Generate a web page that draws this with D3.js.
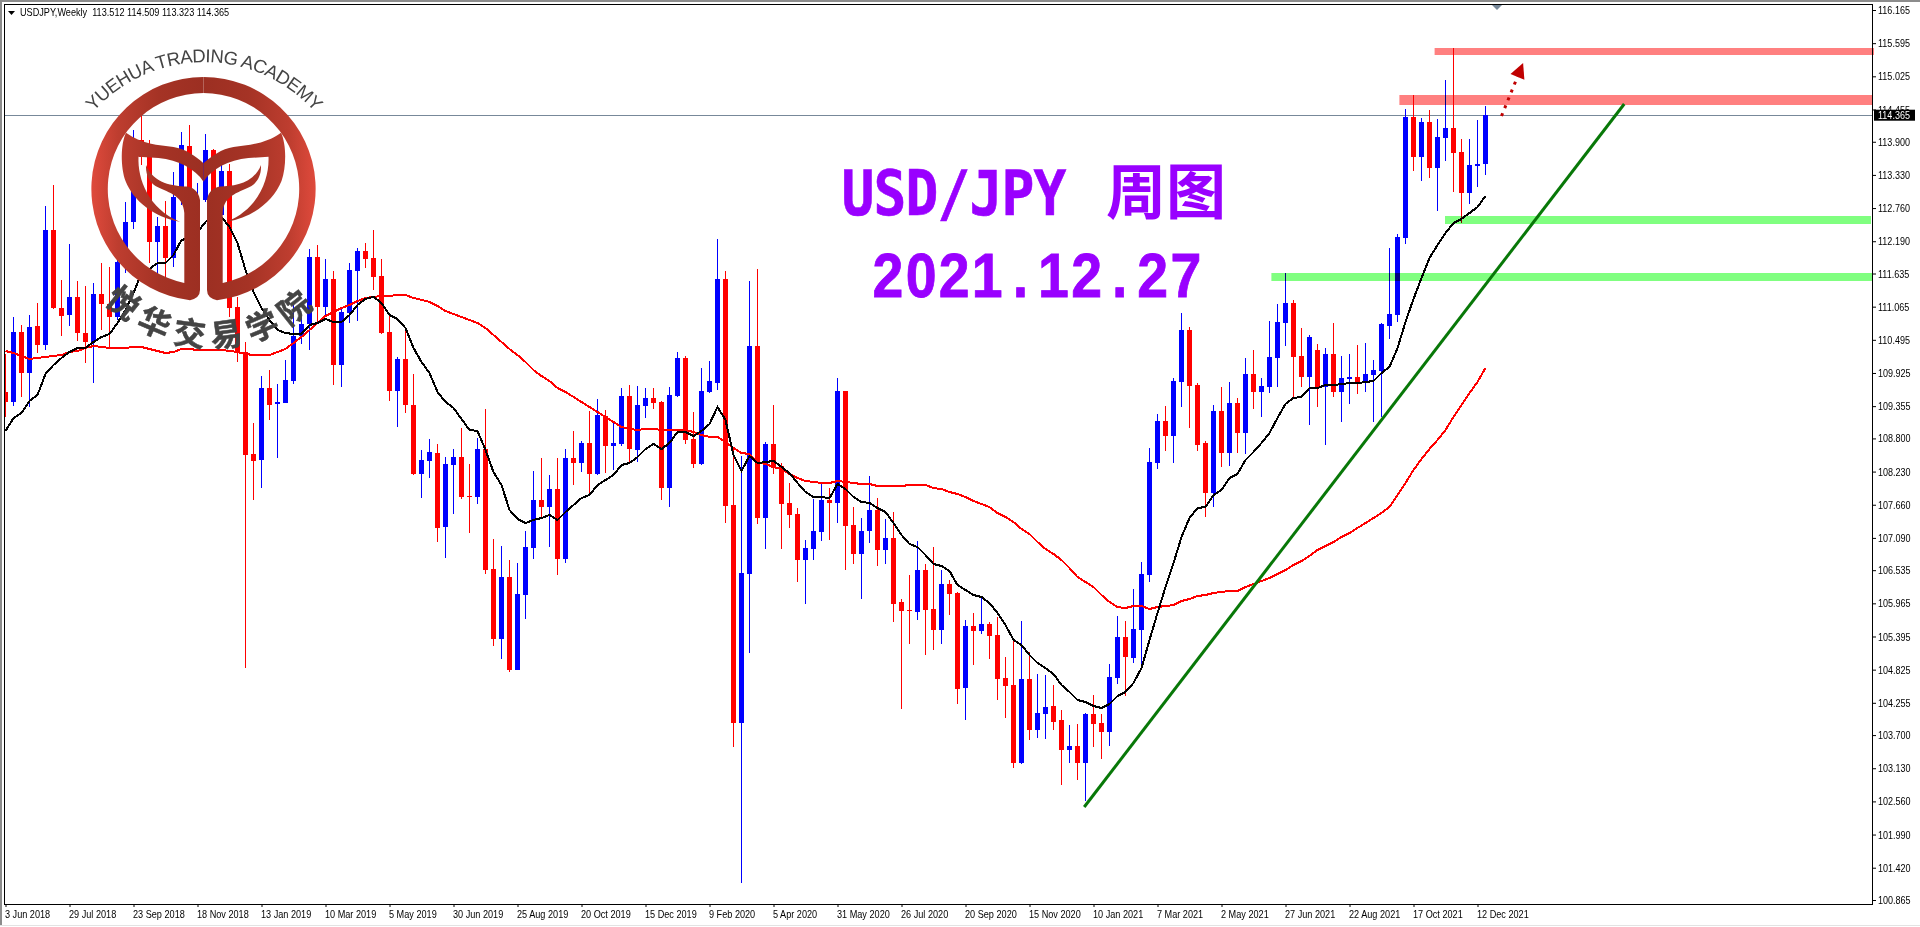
<!DOCTYPE html>
<html>
<head>
<meta charset="utf-8">
<title>USDJPY Weekly</title>
<script src="https://cdn.jsdelivr.net/npm/d3@7/dist/d3.min.js"></script>
<style>
  html, body { margin: 0; padding: 0; background: #fff; overflow: hidden; }
  svg { display: block; }
  text { font-family: "Liberation Sans", sans-serif; }
</style>
</head>
<body>
<script>
// weekly bars
var opens = [109.599,109.427,110.630,109.924,110.733,110.406,112.383,111.042,110.922,111.232,
  110.612,110.458,111.283,111.111,110.888,111.833,112.521,113.930,113.638,112.177,
  112.452,111.902,112.951,113.827,112.469,112.899,113.758,112.641,113.397,111.059,
  110.286,108.532,108.429,109.667,109.392,109.409,109.787,110.561,110.767,111.919,
  111.059,111.541,110.062,110.956,111.678,112.022,111.902,111.592,110.630,109.615,
  110.165,109.375,108.188,108.412,108.549,107.278,108.343,108.480,107.810,107.793,
  108.618,106.555,105.352,106.418,104.819,106.108,106.917,107.741,107.621,107.930,
  106.727,108.463,108.377,108.721,108.188,109.186,108.670,108.704,109.530,108.601,
  109.358,109.496,109.427,107.947,109.530,110.183,108.790,108.360,109.598,109.752,
  111.541,107.655,103.907,106.469,110.389,107.432,108.704,108.326,107.690,107.501,
  106.710,106.899,107.191,107.741,107.690,109.615,107.312,106.813,107.209,107.570,
  106.882,107.088,105.988,105.850,105.816,106.538,105.867,105.507,106.298,106.143,
  104.509,105.576,105.490,105.610,105.421,104.681,104.561,103.220,104.664,103.788,
  104.062,104.199,103.959,103.444,103.513,103.220,104.062,103.907,103.753,104.681,
  105.387,105.025,105.507,106.452,108.377,109.100,108.842,109.770,110.664,109.718,
  108.721,107.862,109.272,108.549,109.409,108.893,109.907,109.598,109.684,110.183,
  110.784,111.128,110.217,109.856,110.320,109.684,110.251,109.598,109.822,109.856,
  109.752,109.890,109.959,110.733,110.922,112.246,114.326,113.638,114.240,113.449,
  113.965,114.137,113.724,113.019,113.483,113.512];
var highs = [110.251,110.888,110.750,110.922,111.128,112.796,113.157,111.524,112.142,111.507,
  111.421,111.472,111.815,111.747,112.039,112.865,114.102,114.360,113.930,112.607,
  112.882,113.380,114.068,114.188,113.191,114.033,113.775,113.552,113.518,111.232,
  110.458,109.065,109.873,109.976,109.735,110.148,111.094,110.939,112.056,112.125,
  111.884,111.678,111.025,111.815,112.074,112.159,112.383,111.884,110.922,110.200,
  110.664,109.907,108.601,108.790,108.704,108.480,108.618,108.980,108.360,108.807,
  109.306,107.071,106.951,106.710,106.658,107.209,108.240,108.463,108.171,108.463,
  108.618,108.928,108.756,109.272,109.478,109.289,109.082,109.667,109.718,109.701,
  109.667,109.667,109.444,109.684,110.286,110.217,109.254,110.011,110.131,112.228,
  111.678,108.653,108.498,111.507,111.713,108.738,109.375,108.377,108.034,107.604,
  107.054,107.758,108.034,107.947,109.839,109.615,107.621,107.432,108.154,107.775,
  107.415,107.535,106.039,106.452,107.037,106.641,106.934,106.538,106.366,106.160,
  105.679,105.799,106.074,105.644,105.730,105.042,105.335,105.662,105.129,104.750,
  104.733,104.561,104.131,103.873,103.890,104.079,104.389,104.062,104.922,105.748,
  105.662,106.211,106.676,108.635,109.220,109.358,109.839,110.956,110.716,109.752,
  108.756,109.375,109.684,109.770,109.496,110.183,110.320,109.839,110.819,111.111,
  111.643,111.180,110.698,110.578,110.423,110.355,110.784,110.217,110.251,110.406,
  110.440,110.148,110.784,112.074,112.314,114.463,114.704,114.309,114.446,114.291,
  114.962,115.512,113.947,113.947,114.274,114.509];
var lows = [109.169,109.358,109.513,109.341,110.268,110.320,111.025,110.561,110.733,110.475,
  110.096,109.752,110.664,110.372,110.836,111.643,112.400,113.500,111.815,111.609,
  111.490,111.747,112.813,112.899,112.297,112.865,112.469,112.503,110.888,110.114,
  104.853,107.741,107.947,109.117,108.463,109.409,109.735,110.423,110.320,110.802,
  110.888,109.718,109.684,110.784,110.819,111.730,111.352,110.595,109.444,108.997,
  109.237,108.171,107.775,108.120,107.020,106.744,107.501,107.758,107.174,107.672,
  106.469,105.232,105.008,104.785,104.819,105.696,106.727,107.449,106.934,106.452,
  106.658,107.999,108.222,107.862,108.171,108.205,108.257,108.670,108.377,108.394,
  109.151,109.306,107.741,107.621,109.513,108.704,108.291,108.343,109.581,109.633,
  107.346,103.496,101.157,105.111,107.329,106.899,108.188,106.899,107.261,106.332,
  105.953,106.710,107.037,107.054,107.346,106.538,106.641,106.039,107.002,106.607,
  106.641,105.644,104.148,105.266,105.679,105.077,105.163,105.266,105.765,104.234,
  103.959,104.905,105.438,105.008,104.303,103.993,103.134,103.203,103.616,103.650,
  103.633,103.788,102.842,103.220,102.928,102.567,103.496,103.289,103.513,104.578,
  104.372,104.939,104.870,106.332,108.274,108.584,108.377,109.341,108.980,108.584,
  107.449,107.621,108.309,108.326,108.549,108.532,109.306,109.169,109.581,109.684,
  110.389,109.513,109.684,109.031,109.341,108.687,109.513,109.082,109.392,109.564,
  109.598,109.082,109.169,110.509,110.802,112.142,113.397,113.225,113.277,112.710,
  113.569,113.036,112.503,112.830,113.122,113.323];
var closes = [109.427,110.630,109.924,110.716,110.406,112.383,111.042,110.905,111.232,110.612,
  110.458,111.283,111.111,110.888,111.833,112.521,113.930,113.638,112.177,112.452,
  111.902,112.951,113.844,112.985,112.899,113.758,112.899,113.397,111.042,110.286,
  108.515,108.412,109.667,109.375,109.427,109.804,110.561,110.767,111.919,111.059,
  111.541,110.062,110.974,111.695,112.022,111.884,111.575,110.612,109.615,110.165,
  109.375,108.188,108.429,108.567,107.261,108.360,108.480,107.793,107.793,108.618,
  106.538,105.352,106.418,104.819,106.125,106.934,107.741,107.621,107.930,106.727,
  108.463,108.377,108.721,108.188,109.203,108.670,108.721,109.530,108.618,109.375,
  109.496,109.409,107.947,109.547,110.183,108.773,108.360,109.615,109.787,111.541,
  107.638,103.907,106.486,110.389,107.432,108.704,108.291,107.672,107.484,106.710,
  106.917,107.209,107.741,107.690,109.615,107.295,106.813,107.209,107.570,106.882,
  107.088,105.953,105.833,105.833,106.538,105.850,105.507,106.298,106.125,104.492,
  105.576,105.490,105.610,105.404,104.664,104.544,103.220,104.664,103.788,104.079,
  104.182,103.924,103.444,103.513,103.220,104.062,103.890,103.753,104.698,105.387,
  105.042,105.524,106.469,108.394,109.100,108.842,109.787,110.664,109.701,108.687,
  107.862,109.272,108.549,109.409,108.893,109.907,109.598,109.701,110.200,110.802,
  111.128,110.200,109.856,110.544,109.684,110.251,109.598,109.839,109.856,109.752,
  109.907,109.976,110.767,110.939,112.263,114.326,113.638,114.240,113.449,113.982,
  114.137,113.707,113.019,113.500,113.518,114.365];

// moving averages
var fastMA = [108.928,109.151,109.237,109.444,109.547,109.907,110.062,110.183,110.286,110.355,
  110.355,110.458,110.544,110.595,110.784,111.008,111.300,111.643,111.713,111.815,
  111.815,111.953,112.211,112.246,112.349,112.521,112.641,112.607,112.435,112.159,
  111.695,111.317,111.042,110.836,110.664,110.612,110.595,110.595,110.750,110.784,
  110.853,110.802,110.802,110.922,111.094,111.197,111.232,111.128,110.922,110.853,
  110.698,110.355,110.114,109.924,109.598,109.427,109.323,109.134,108.945,108.928,
  108.601,108.222,107.999,107.570,107.415,107.346,107.398,107.432,107.484,107.398,
  107.535,107.655,107.775,107.827,107.999,108.085,108.171,108.343,108.377,108.480,
  108.618,108.704,108.618,108.721,108.910,108.910,108.842,108.928,109.048,109.341,
  109.117,108.515,108.240,108.498,108.377,108.394,108.412,108.309,108.205,108.034,
  107.879,107.793,107.793,107.775,108.016,107.930,107.793,107.707,107.690,107.604,
  107.535,107.346,107.140,106.985,106.934,106.796,106.641,106.607,106.521,106.280,
  106.194,106.108,106.074,105.970,105.799,105.593,105.335,105.249,105.077,104.939,
  104.853,104.750,104.561,104.441,104.303,104.269,104.200,104.165,104.234,104.372,
  104.441,104.596,104.853,105.335,105.799,106.246,106.658,107.106,107.432,107.604,
  107.621,107.827,107.913,108.120,108.188,108.429,108.567,108.721,108.893,109.151,
  109.392,109.496,109.513,109.667,109.667,109.718,109.718,109.735,109.752,109.752,
  109.770,109.787,109.924,110.028,110.355,110.802,111.197,111.558,111.902,112.125,
  112.331,112.503,112.572,112.675,112.778,112.968];
var slowMA = [110.303,110.268,110.217,110.165,110.183,110.200,110.217,110.234,110.286,110.303,
  110.355,110.389,110.372,110.355,110.355,110.355,110.372,110.372,110.337,110.303,
  110.268,110.286,110.337,110.337,110.320,110.320,110.320,110.320,110.303,110.286,
  110.251,110.234,110.234,110.234,110.286,110.337,110.440,110.544,110.664,110.784,
  110.905,110.974,111.042,111.094,111.163,111.215,111.232,111.249,111.249,111.266,
  111.266,111.215,111.180,111.146,111.077,110.991,110.939,110.888,110.836,110.784,
  110.698,110.578,110.458,110.337,110.234,110.114,109.976,109.873,109.787,109.667,
  109.598,109.513,109.427,109.341,109.254,109.169,109.082,108.997,108.962,108.945,
  108.962,108.962,108.945,108.945,108.945,108.945,108.910,108.859,108.825,108.825,
  108.738,108.635,108.549,108.532,108.394,108.360,108.309,108.274,108.188,108.120,
  108.068,108.051,108.034,108.034,108.068,108.051,108.034,108.016,108.016,107.982,
  107.982,107.982,107.982,107.999,107.999,107.999,107.947,107.930,107.879,107.844,
  107.793,107.724,107.672,107.621,107.518,107.449,107.363,107.243,107.157,107.020,
  106.899,106.813,106.710,106.572,106.418,106.332,106.246,106.108,105.988,105.902,
  105.884,105.919,105.919,105.867,105.902,105.919,105.936,106.005,106.039,106.091,
  106.108,106.143,106.160,106.177,106.177,106.246,106.298,106.349,106.401,106.469,
  106.538,106.624,106.693,106.779,106.882,106.951,107.020,107.106,107.174,107.261,
  107.346,107.432,107.518,107.621,107.827,108.034,108.257,108.446,108.618,108.773,
  108.945,109.169,109.375,109.581,109.770,110.011];

// axis labels
var priceTicks = [116.165,115.595,115.025,114.455,113.900,113.330,112.760,112.190,111.635,111.065,
  110.495,109.925,109.355,108.800,108.230,107.660,107.090,106.535,105.965,105.395,
  104.825,104.255,103.700,103.130,102.560,101.990,101.420,100.865];
var dateLabels = ["3 Jun 2018","29 Jul 2018","23 Sep 2018","18 Nov 2018","13 Jan 2019","10 Mar 2019",
  "5 May 2019","30 Jun 2019","25 Aug 2019","20 Oct 2019","15 Dec 2019","9 Feb 2020","5 Apr 2020",
  "31 May 2020","26 Jul 2020","20 Sep 2020","15 Nov 2020","10 Jan 2021","7 Mar 2021","2 May 2021",
  "27 Jun 2021","22 Aug 2021","17 Oct 2021","12 Dec 2021"];

// zones and drawn objects, in bar index and price
var zoneStart = [178.7, 174.3, 180, 158.3];
var zoneTop = [115.512, 114.704, 112.624, 111.643];
var zoneBottom = [115.392, 114.532, 112.486, 111.507];
var zoneColor = ["#ff8080", "#ff8080", "#80ff80", "#80ff80"];
var trendBars = [134.84, 202.34];
var trendPrices = [102.464, 114.549];
var arrowBars = [187, 189.7];
var arrowPrices = [114.343, 115.254];

var lastPrice = closes[closes.length - 1];
var upColor = "#0000ff";
var downColor = "#ff0000";

var svg = d3.select("body").append("svg")
  .attr("width", 1920)
  .attr("height", 927);

var plot = { left: 4, top: 4, right: 1872, bottom: 904 };

var x = d3.scaleLinear().domain([0, 185]).range([5.5, 1485.5]);
var y = d3.scaleLinear().domain([100.865, 116.165]).range([900, 10]);

// window edges
svg.append("rect").attr("width", 1920).attr("height", 2).attr("fill", "#8c8c8c");
svg.append("rect").attr("width", 2).attr("height", 925).attr("fill", "#8c8c8c");
svg.append("rect").attr("y", 925).attr("width", 1920).attr("height", 1).attr("fill", "#e3e3e3");

svg.append("clipPath").attr("id", "plotClip").append("rect")
  .attr("x", plot.left)
  .attr("y", plot.top)
  .attr("width", plot.right - plot.left)
  .attr("height", plot.bottom - plot.top);

var chart = svg.append("g").attr("clip-path", "url(#plotClip)");

// last price line goes behind the bars
chart.append("line")
  .attr("x1", plot.left).attr("x2", plot.right)
  .attr("y1", Math.round(y(lastPrice)) + 0.5).attr("y2", Math.round(y(lastPrice)) + 0.5)
  .attr("stroke", "#778899");

var bars = d3.range(opens.length);

function barColor(i) {
  return closes[i] >= opens[i] ? upColor : downColor;
}

// wicks
chart.selectAll(".wick")
  .data(bars)
  .enter()
  .append("rect")
  .attr("class", "wick")
  .attr("x", function(i) { return x(i) - 0.5; })
  .attr("y", function(i) { return Math.round(y(highs[i])); })
  .attr("width", 1)
  .attr("height", function(i) { return Math.max(1, Math.round(y(lows[i])) - Math.round(y(highs[i]))); })
  .attr("fill", barColor);

// bodies
chart.selectAll(".body")
  .data(bars)
  .enter()
  .append("rect")
  .attr("class", "body")
  .attr("x", function(i) { return x(i) - 2.5; })
  .attr("y", function(i) { return Math.round(y(Math.max(opens[i], closes[i]))); })
  .attr("width", 5)
  .attr("height", function(i) {
    return Math.max(1, Math.round(y(Math.min(opens[i], closes[i]))) - Math.round(y(Math.max(opens[i], closes[i]))));
  })
  .attr("fill", barColor);

// moving averages, not smoothed like the terminal draws them
var maLine = d3.line()
  .x(function(d, i) { return x(i); })
  .y(function(d) { return y(d); });

chart.append("path").datum(slowMA)
  .attr("d", maLine)
  .attr("fill", "none")
  .attr("stroke", "#ff0000")
  .attr("stroke-width", 2)
  .attr("shape-rendering", "crispEdges");

chart.append("path").datum(fastMA)
  .attr("d", maLine)
  .attr("fill", "none")
  .attr("stroke", "#000000")
  .attr("stroke-width", 2)
  .attr("shape-rendering", "crispEdges");

// support and resistance zones, multiply so the bars show through like in the terminal
svg.selectAll(".zone")
  .data(zoneStart)
  .enter()
  .append("rect")
  .attr("class", "zone")
  .attr("x", function(d) { return x(d) - 0.5; })
  .attr("y", function(d, i) { return Math.round(y(zoneTop[i])); })
  .attr("width", function(d, i) { return (i == 0 ? 1874 : i == 2 ? 1871 : 1872) - x(d) + 0.5; })
  .attr("height", function(d, i) { return Math.round(y(zoneBottom[i])) - Math.round(y(zoneTop[i])); })
  .attr("fill", function(d, i) { return zoneColor[i]; })
  .style("mix-blend-mode", "multiply");

// trend line
svg.append("line")
  .attr("x1", x(trendBars[0])).attr("y1", y(trendPrices[0]))
  .attr("x2", x(trendBars[1])).attr("y2", y(trendPrices[1]))
  .attr("stroke", "#087808")
  .attr("stroke-width", 3);

// dotted arrow
var ax0 = x(arrowBars[0]), ay0 = y(arrowPrices[0]);
var ax1 = x(arrowBars[1]), ay1 = y(arrowPrices[1]);
var alen = Math.sqrt((ax1 - ax0) * (ax1 - ax0) + (ay1 - ay0) * (ay1 - ay0));
var ux = (ax1 - ax0) / alen, uy = (ay1 - ay0) / alen;
svg.append("line")
  .attr("x1", ax0).attr("y1", ay0)
  .attr("x2", ax1 - ux * 12).attr("y2", ay1 - uy * 12)
  .attr("stroke", "#c00000")
  .attr("stroke-width", 3)
  .attr("stroke-dasharray", "3 5.5");
svg.append("polygon")
  .attr("points", [
    [ax1, ay1],
    [ax1 - ux * 15 - uy * 7.5, ay1 - uy * 15 + ux * 7.5],
    [ax1 - ux * 15 + uy * 7.5, ay1 - uy * 15 - ux * 7.5]
  ].join(" "))
  .attr("fill", "#c00000");

// squeeze labels to the narrow terminal font
function squeeze(sel, factor) {
  sel.each(function() {
    this.setAttribute("textLength", this.getComputedTextLength() * factor);
    this.setAttribute("lengthAdjust", "spacingAndGlyphs");
  });
}

// axes
var yAxis = d3.axisRight(y)
  .tickValues(priceTicks)
  .tickSize(4)
  .tickPadding(2)
  .tickFormat(d3.format(".3f"));

var yAxisG = svg.append("g")
  .attr("transform", "translate(" + plot.right + ",0)")
  .call(yAxis);
yAxisG.select(".domain").remove();
yAxisG.selectAll("line").attr("stroke", "#000");
yAxisG.selectAll("text")
  .style("font-size", "11px")
  .style("font-family", "'Liberation Sans'")
  .attr("fill", "#000")
  .call(squeeze, 0.82);

var xAxis = d3.axisBottom(x)
  .tickValues(d3.range(0, 185, 8))
  .tickSize(3)
  .tickPadding(3)
  .tickFormat(function(d) { return dateLabels[d / 8]; });

var xAxisG = svg.append("g")
  .attr("transform", "translate(0," + plot.bottom + ")")
  .call(xAxis);
xAxisG.select(".domain").remove();
xAxisG.selectAll("line").attr("stroke", "#000");
xAxisG.selectAll("text")
  .attr("text-anchor", "start")
  .attr("x", -1)
  .style("font-size", "11px")
  .style("font-family", "'Liberation Sans'")
  .attr("fill", "#000")
  .call(squeeze, 0.83);

// frame
svg.append("rect")
  .attr("x", plot.left + 0.5)
  .attr("y", plot.top + 0.5)
  .attr("width", plot.right - plot.left)
  .attr("height", plot.bottom - plot.top)
  .attr("fill", "none")
  .attr("stroke", "#000");

// last price label
svg.append("rect")
  .attr("x", 1874)
  .attr("y", y(lastPrice) - 5)
  .attr("width", 41)
  .attr("height", 11)
  .attr("fill", "#000");
svg.append("text")
  .attr("x", 1878)
  .attr("y", y(lastPrice) + 4)
  .attr("fill", "#fff")
  .style("font-size", "11px")
  .text(d3.format(".3f")(lastPrice))
  .call(squeeze, 0.82);

// chart header
svg.append("path")
  .attr("d", "M8,11 L15,11 L11.5,15 Z")
  .attr("fill", "#000");
svg.append("text")
  .attr("x", 20)
  .attr("y", 16)
  .attr("fill", "#000")
  .style("font-size", "11px")
  .style("white-space", "pre")
  .text("USDJPY,Weekly  " + [opens[185], highs[185], lows[185], closes[185]].map(d3.format(".3f")).join(" "))
  .call(squeeze, 0.83);

// chart shift marker
svg.append("path")
  .attr("d", "M1492,5 L1502,5 L1497,10 Z")
  .attr("fill", "#778899");

// big title
var titleScale = 0.88;
svg.append("text")
  .attr("transform", "scale(" + titleScale + ",1)")
  .attr("x", d3.range(7).map(function(i) { return (858 + i * 32) / titleScale; }).join(" "))
  .attr("y", 215)
  .attr("text-anchor", "middle")
  .attr("fill", "#9900ff")
  .attr("stroke", "#9900ff")
  .attr("stroke-width", 0.6)
  .style("font-weight", "bold")
  .style("font-family", "'DejaVu Sans Mono'")
  .style("font-size", "62px")
  .text("USD/JPY");

svg.append("text")
  .attr("x", 1106)
  .attr("y", 214)
  .attr("fill", "#9900ff")
  .style("font-weight", "bold")
  .style("font-family", "'Noto Sans CJK SC'")
  .style("font-size", "60px")
  .text("周图");

svg.append("text")
  .attr("transform", "scale(" + titleScale + ",1)")
  .attr("x", d3.range(10).map(function(i) { return (888 + i * 33.1) / titleScale; }).join(" "))
  .attr("y", 297)
  .attr("text-anchor", "middle")
  .attr("fill", "#9900ff")
  .attr("stroke", "#9900ff")
  .attr("stroke-width", 0.8)
  .style("font-weight", "bold")
  .style("font-size", "63px")
  .text("2021.12.27");

// academy logo
var defs = svg.append("defs");
var grad = defs.append("linearGradient").attr("id", "logoGrad");
grad.append("stop").attr("offset", "0%").attr("stop-color", "#df4a3c");
grad.append("stop").attr("offset", "12%").attr("stop-color", "#bd3d2f");
grad.append("stop").attr("offset", "30%").attr("stop-color", "#a53325");
grad.append("stop").attr("offset", "50%").attr("stop-color", "#9c2f22");
grad.append("stop").attr("offset", "70%").attr("stop-color", "#a53325");
grad.append("stop").attr("offset", "88%").attr("stop-color", "#bd3d2f");
grad.append("stop").attr("offset", "100%").attr("stop-color", "#df4a3c");
defs.append("path").attr("id", "arcTop").attr("d", "M61,172 A148,148 0 0 1 347,172");
defs.append("path").attr("id", "arcBottom").attr("d", "M72,249 A149,149 0 0 0 352,249");

var logo = svg.append("g").attr("transform", "translate(203.5,189)");
var ringHalf = "M0,-112 A112,112 0 0 0 -13.5,111.2 Q-3.5,109 -3.5,101 L-3.5,11 C-5,1 -12,-2 -17,-2.5 C-30,-3 -50,-5 -57.5,-24 C-58,-14 -54,-7 -48,-3 C-38,3 -20,5 -19.2,24 L-19.2,94 A96,96 0 0 1 0,-96 Z";
var tailHalf = "M-77.5,-56.3 C-62,-45 -45,-44 -30,-42 C-18,-40 -8,-33 0,-25.7 L0,-7.3 C-8,-20 -25,-29 -45,-31 L-65,-32.3 C-66,-10 -55,20 -23.5,32.7 C-50,28 -70,12 -78,-8 C-83,-22 -83,-45 -77.5,-56.3 Z";

// left half and its mirror, gradient runs across the whole ring
defs.append("linearGradient")
  .attr("id", "logoGradUser")
  .attr("gradientUnits", "userSpaceOnUse")
  .attr("x1", -112).attr("x2", 112).attr("y1", 0).attr("y2", 0)
  .attr("href", "#logoGrad");

[1, -1].forEach(function(sx) {
  var half = logo.append("g").attr("transform", "scale(" + sx + ",1)");
  half.append("path").attr("d", ringHalf).attr("fill", "url(#logoGradUser)");
  half.append("path").attr("d", tailHalf).attr("fill", "url(#logoGradUser)");
});

svg.append("text")
  .attr("fill", "#444")
  .style("font-size", "18.5px")
  .style("letter-spacing", "-0.5px")
  .append("textPath")
  .attr("href", "#arcTop")
  .attr("startOffset", "50%")
  .attr("text-anchor", "middle")
  .text("YUEHUA TRADING ACADEMY");

svg.append("text")
  .attr("fill", "#444")
  .attr("stroke", "#444")
  .attr("stroke-width", 0.5)
  .style("font-size", "32px")
  .style("font-weight", "bold")
  .style("font-family", "'Noto Sans CJK SC'")
  .style("letter-spacing", "8px")
  .append("textPath")
  .attr("href", "#arcBottom")
  .attr("startOffset", "50%")
  .attr("text-anchor", "middle")
  .text("悦华交易学院");
</script>
</body>
</html>
